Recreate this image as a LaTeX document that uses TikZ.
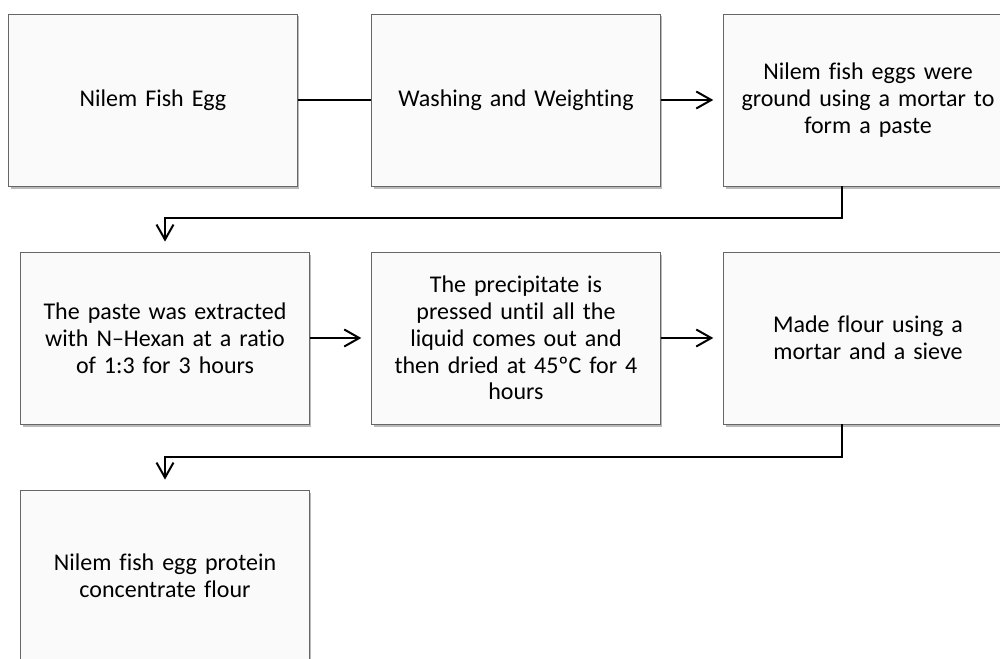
\documentclass[tikz,border=0pt]{standalone}
\usepackage{fontspec}
\setmainfont{Carlito}[Ligatures=NoCommon]
\usetikzlibrary{arrows.meta,shadows}
\tikzset{
  stage/.style={draw=black!60, fill=white!98!black, line width=0.8pt,
    minimum width=286pt, minimum height=172pt, text width=282pt, align=center,
    font=\fontsize{24}{26.8}\selectfont,
    drop shadow={shadow xshift=2pt, shadow yshift=-2.5pt, fill=black!45, opacity=0.6}},
  link/.style={line width=2pt},
  flow/.style={link, -{Straight Barb[length=15pt,width=17pt,line width=2pt]}, shorten >=10pt}
}
\begin{document}
\begin{tikzpicture}[x=1pt,y=-1pt]
      \useasboundingbox (0,0) rectangle (1000,658);
      \clip (0,0) rectangle (1000,658);
      \path
        (153,100) node[stage] (egg){Nilem Fish Egg}
        (516,100) node[stage] (wash){Washing and Weighting}
        (868,100) node[stage] (grind){Nilem fish eggs were\\ground using a mortar to\\form a paste}
        (165,338) node[stage] (extract){The paste was extracted\\with N–Hexan at a ratio\\of 1:3 for 3 hours}
        (516,338) node[stage] (press){The precipitate is\\pressed until all the\\liquid comes out and\\then dried at 45ºC for 4\\hours}
        (868,338) node[stage] (flour){Made flour using a\\mortar and a sieve}
        (165,576) node[stage] (product){Nilem fish egg protein\\concentrate flour};
      \draw[link] (egg) -- (wash);
      \begin{scope}[flow]
        \draw (wash) -- (grind);
        \draw ([xshift=-26pt]grind.south) -- ++(0,32) -| (extract.north);
        \draw (extract) -- (press);
        \draw (press) -- (flour);
        \draw ([xshift=-26pt]flour.south) -- ++(0,33) -| (product.north);
      \end{scope}
    \end{tikzpicture}
\end{document}
